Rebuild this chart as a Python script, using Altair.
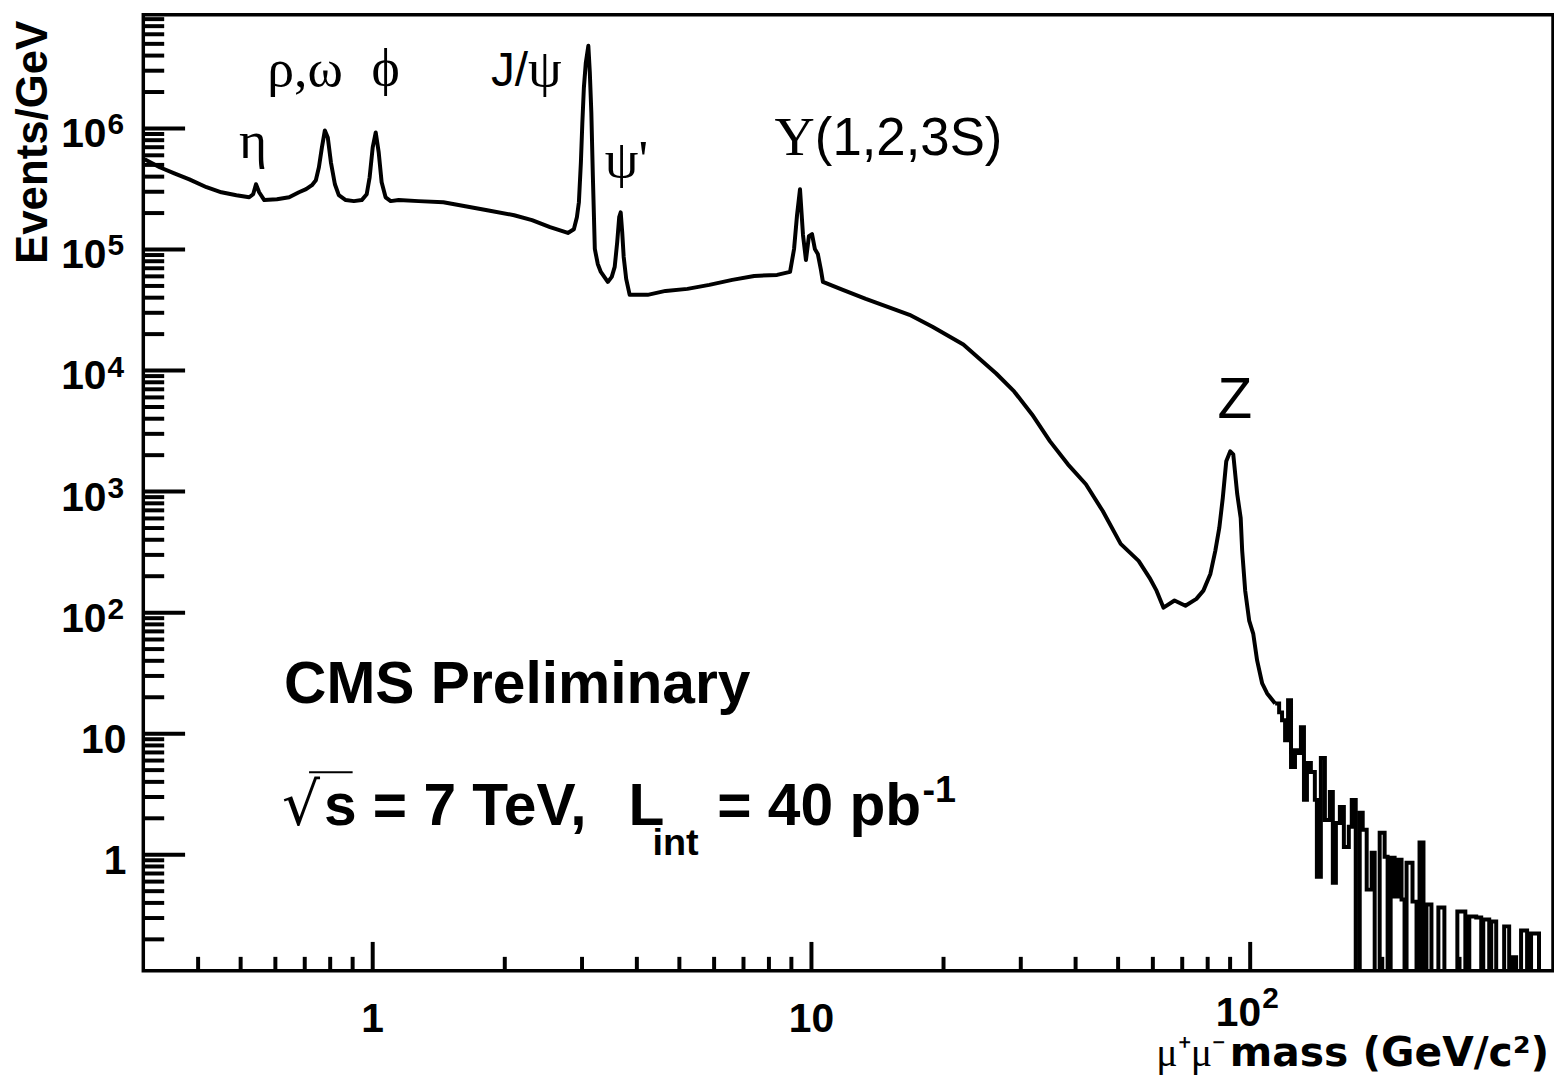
import altair as alt
import pandas as pd

# ---- dimuon mass spectrum (GeV/c^2, events/GeV) ----
mass = [0.302, 0.327, 0.353, 0.382, 0.418, 0.452, 0.489, 0.523, 0.534, 0.542,
        0.551, 0.566, 0.605, 0.645, 0.679, 0.705, 0.727, 0.742, 0.754, 0.766,
        0.778, 0.790, 0.803, 0.820, 0.837, 0.868, 0.906, 0.944, 0.969, 0.984,
        1.000, 1.016, 1.032, 1.048, 1.070, 1.099, 1.146, 1.272, 1.449, 1.626,
        1.824, 2.101, 2.307, 2.536, 2.785, 2.874, 2.920, 2.951, 2.982, 3.005,
        3.029, 3.060, 3.101, 3.125, 3.150, 3.175, 3.208, 3.258, 3.311, 3.434,
        3.506, 3.561, 3.608, 3.646, 3.675, 3.704, 3.733, 3.782, 3.852, 4.233,
        4.650, 5.216, 5.851, 6.600, 7.404, 8.350, 8.938, 9.128, 9.271, 9.417,
        9.566, 9.716, 9.869, 10.03, 10.18, 10.34, 10.51, 10.62, 11.79, 13.30,
        14.92, 16.73, 18.87, 22.19, 26.37, 28.97, 31.83, 34.98, 38.42, 42.22,
        46.13, 50.68, 55.68, 58.97, 61.17, 63.45, 67.22, 71.19, 75.41, 78.22,
        81.14, 83.27, 85.03, 86.60, 88.20, 90.07, 91.50, 93.42, 95.14, 95.89,
        97.41, 99.47, 101.6, 103.7, 106.5, 109.3, 114.0]
events = [5.56e5, 4.78e5, 4.26e5, 3.80e5, 3.27e5, 2.97e5, 2.81e5, 2.70e5, 2.86e5, 3.46e5,
          2.97e5, 2.56e5, 2.60e5, 2.70e5, 2.97e5, 3.15e5, 3.40e5, 3.73e5, 4.78e5, 6.98e5,
          9.63e5, 8.43e5, 5.25e5, 3.46e5, 2.81e5, 2.56e5, 2.51e5, 2.56e5, 2.86e5, 3.95e5,
          6.98e5, 9.27e5, 6.35e5, 3.59e5, 2.70e5, 2.51e5, 2.56e5, 2.51e5, 2.46e5, 2.28e5,
          2.11e5, 1.92e5, 1.75e5, 1.53e5, 1.37e5, 1.47e5, 1.85e5, 2.46e5, 5.25e5, 1.12e6,
          2.17e6, 3.49e6, 4.82e6, 2.89e6, 1.35e6, 4.10e5, 1.01e5, 7.60e4, 6.53e4, 5.40e4,
          5.94e4, 7.18e4, 1.15e5, 1.85e5, 2.03e5, 1.39e5, 8.68e4, 5.72e4, 4.22e4, 4.22e4,
          4.55e4, 4.73e4, 5.10e4, 5.61e4, 6.05e4, 6.17e4, 6.53e4, 1.01e5, 1.92e5, 3.15e5,
          1.32e5, 8.20e4, 1.29e5, 1.34e5, 1.01e5, 9.19e4, 6.78e4, 5.40e4, 4.64e4, 3.91e4,
          3.36e4, 2.89e4, 2.30e4, 1.64e4, 9.45e3, 6.72e3, 4.34e3, 2.60e3, 1.68e3, 1.15e3,
          691, 370, 268, 194, 152, 110, 126, 114, 130, 152,
          209, 324, 501, 884, 1.78e3, 2.15e3, 2.03e3, 954, 605, 324,
          152, 86.0, 67.2, 40.3, 26.0, 21.5, 17.8]

# high-mass tail: bin left edges and contents (0 = empty bin)
tail_mass = [114.0, 116.4, 118.2, 120.1, 122.0, 123.9, 126.5, 128.5, 130.5, 132.6,
             134.7, 137.5, 140.4, 141.9, 144.9, 148.0, 151.9, 154.3, 156.8, 160.1,
             163.5, 167.8, 170.4, 174.0, 177.7, 180.5, 184.3, 189.2, 192.2, 197.3,
             202.5, 205.7, 209.0, 213.4, 216.8, 221.3, 224.8, 227.2, 234.4, 239.4,
             243.2, 248.3, 252.2, 258.9, 268.5, 277.1, 296.6, 309.3, 315.8, 327.5,
             336.2, 339.8, 350.6, 354.3, 363.7, 379.2, 389.3, 395.4, 403.8, 414.4,
             427.7, 436.7, 455.3, 490.0]
tail_events = [17.8, 15.0, 12.9, 8.84, 18.9, 5.30, 7.31, 6.91, 11.3, 2.84,
               5.72, 4.82, 2.84, 0.659, 6.29, 1.94, 3.30, 0.588, 1.83, 2.48,
               1.16, 1.70, 2.84, 0, 2.22, 1.61, 0.515, 1.04, 0, 1.52,
               0.963, 0, 0.945, 0.451, 0.910, 0.426, 0, 0.859, 0.410, 0,
               1.26, 0, 0.388, 0, 0.366, 0, 0.340, 0, 0.309, 0.303,
               0, 0.292, 0, 0.281, 0, 0.256, 0, 0.142, 0, 0.237,
               0, 0.224, 0, 0]

# ---- axes ----
x_major = [1, 10, 100]
x_minor = [0.4, 0.5, 0.6, 0.7, 0.8, 0.9, 2, 3, 4, 5, 6, 7, 8, 9,
           20, 30, 40, 50, 60, 70, 80, 90, 200, 300, 400]
y_major = [1, 10, 100, 1e3, 1e4, 1e5, 1e6]
y_minor = [k * 10.0 ** e for e in range(-1, 7) for k in range(2, 10) if k * 10.0 ** e < 8.7e6]

x_label_vals = [1, 10]
x_label_text = ["1", "10"]
x_pow_vals = [100]
x_pow_exp = ["2"]
y_label_vals = [1, 10]
y_label_text = ["1", "10"]
y_pow_vals = [1e2, 1e3, 1e4, 1e5, 1e6]
y_pow_exp = ["2", "3", "4", "5", "6"]

# ---- annotations (text, anchor mass, anchor events/GeV) ----
greek_text = ["η", "ρ,ω", "ϕ"]
greek_m = [0.534, 0.701, 1.070]
greek_v = [5.66e5, 2.26e6, 2.30e6]

W, H = 1417, 961
SANS = "Liberation Sans"
SERIF = "Liberation Serif"
WIDE = "DejaVu Sans"
FLOOR = 1e-3

xs = alt.Scale(type="log", domain=[0.3, 490], nice=False)
ys = alt.Scale(type="log", domain=[0.11, 8.7e6], nice=False)


def X(f):
    return alt.X(f, scale=xs, axis=None)


def Y(f):
    return alt.Y(f, scale=ys, axis=None)


def text_layer(texts, ms=None, vs=None, xpx=None, ypx=None, **kw):
    d = {"t": texts}
    enc = {"text": alt.Text("t:N")}
    if ms is not None:
        d["m"] = ms
        enc["x"] = X("m:Q")
    else:
        enc["x"] = alt.value(xpx)
    if vs is not None:
        d["v"] = vs
        enc["y"] = Y("v:Q")
    else:
        enc["y"] = alt.value(ypx)
    props = dict(color="black", baseline="alphabetic", font=SANS)
    props.update(kw)
    return alt.Chart(pd.DataFrame(d)).mark_text(**props).encode(**enc)


spec_df = pd.DataFrame({"m": mass, "v": events})
tail_df = pd.DataFrame({"m": tail_mass, "v": [v if v > 0 else FLOOR for v in tail_events]})

line = alt.Chart(spec_df).mark_line(color="black", strokeWidth=4, clip=True,
                                    strokeJoin="round").encode(x=X("m:Q"), y=Y("v:Q"))
tail = alt.Chart(tail_df).mark_line(color="black", strokeWidth=4, clip=True,
                                    interpolate="step-after").encode(x=X("m:Q"), y=Y("v:Q"))

# overline of the square-root sign
sqrt_bar = alt.Chart(pd.DataFrame({"m": [0.716], "m2": [0.900], "v": [4.8]})).mark_rule(
    color="black", strokeWidth=2).encode(x=X("m:Q"), x2="m2:Q", y=Y("v:Q"))


def xticks(vals, length):
    return alt.Chart(pd.DataFrame({"t": vals})).mark_rule(color="black", strokeWidth=4).encode(
        x=X("t:Q"), y=alt.value(H), y2=alt.value(H - length))


def yticks(vals, length):
    return alt.Chart(pd.DataFrame({"t": vals})).mark_rule(color="black", strokeWidth=4).encode(
        y=Y("t:Q"), x=alt.value(0), x2=alt.value(length))


B = dict(fontWeight="bold")
layers = [
    xticks(x_major, 29), xticks(x_minor, 14),
    yticks(y_major, 42), yticks(y_minor, 21),
    line, tail,
    # tick labels
    text_layer(y_label_text, vs=y_label_vals, xpx=-17, fontSize=41, align="right", dy=19, **B),
    text_layer(["10"] * len(y_pow_vals), vs=y_pow_vals, xpx=-37, fontSize=41, align="right", dy=19, **B),
    text_layer(y_pow_exp, vs=y_pow_vals, xpx=-36, fontSize=30, align="left", dy=6, **B),
    text_layer(x_label_text, ms=x_label_vals, ypx=1023, fontSize=41, align="center", **B),
    text_layer(["10"], ms=x_pow_vals, ypx=1017, fontSize=41, align="right", dx=11, **B),
    text_layer(x_pow_exp, ms=x_pow_vals, ypx=998, fontSize=30, align="left", dx=12, **B),
    # axis titles
    text_layer(["Events/GeV"], xpx=-97, ypx=6, fontSize=44, align="right", angle=270, **B),
    text_layer(["mass (GeV/c²)"], ms=[89.8], ypx=1057, fontSize=41, align="left", font=WIDE, **B),
    text_layer(["μ⁺μ⁻"], ms=[87.6], ypx=1057, fontSize=40, align="right", font=SERIF),
    # resonance labels
    text_layer(greek_text, ms=greek_m, vs=greek_v, fontSize=54, align="center", font=SERIF),
    text_layer(["J/"], ms=[2.26], vs=[2.26e6], fontSize=48, align="right"),
    text_layer(["ψ"], ms=[2.26], vs=[2.26e6], fontSize=54, align="left", font=SERIF),
    text_layer(["ψ'"], ms=[3.38], vs=[3.95e5], fontSize=54, align="left", font=SERIF),
    text_layer(["Υ"], ms=[10.18], vs=[6.0e5], fontSize=56, align="right", font=SERIF),
    text_layer(["(1,2,3S)"], ms=[10.18], vs=[6.0e5], fontSize=53, align="left"),
    text_layer(["Z"], ms=[92.3], vs=[4.03e3], fontSize=57, align="center"),
    # CMS text
    text_layer(["CMS Preliminary"], ms=[0.628], vs=[17.8], fontSize=59, align="left", **B),
    text_layer(["√"], ms=[0.621], vs=[1.77], fontSize=60, align="left", font=WIDE),
    sqrt_bar,
    text_layer(["s = 7 TeV,"], ms=[0.774], vs=[1.77], fontSize=59, align="left", **B),
    text_layer(["L"], ms=[3.83], vs=[1.77], fontSize=59, align="left", **B),
    text_layer(["int"], ms=[4.34], vs=[1.0], fontSize=38, align="left", **B),
    text_layer(["= 40 pb"], ms=[6.10], vs=[1.77], fontSize=59, align="left", **B),
    text_layer(["-1"], ms=[17.9], vs=[2.73], fontSize=38, align="left", **B),
]

chart = alt.layer(*layers).properties(
    width=W, height=H,
    padding={"left": 136, "top": 4, "right": 1, "bottom": 104},
    autosize=alt.AutoSizeParams(type="none"),
    background="white",
).configure_view(stroke="black", strokeWidth=3.5)

chart.save("out.html", embed_options={"renderer": "svg", "actions": False})
